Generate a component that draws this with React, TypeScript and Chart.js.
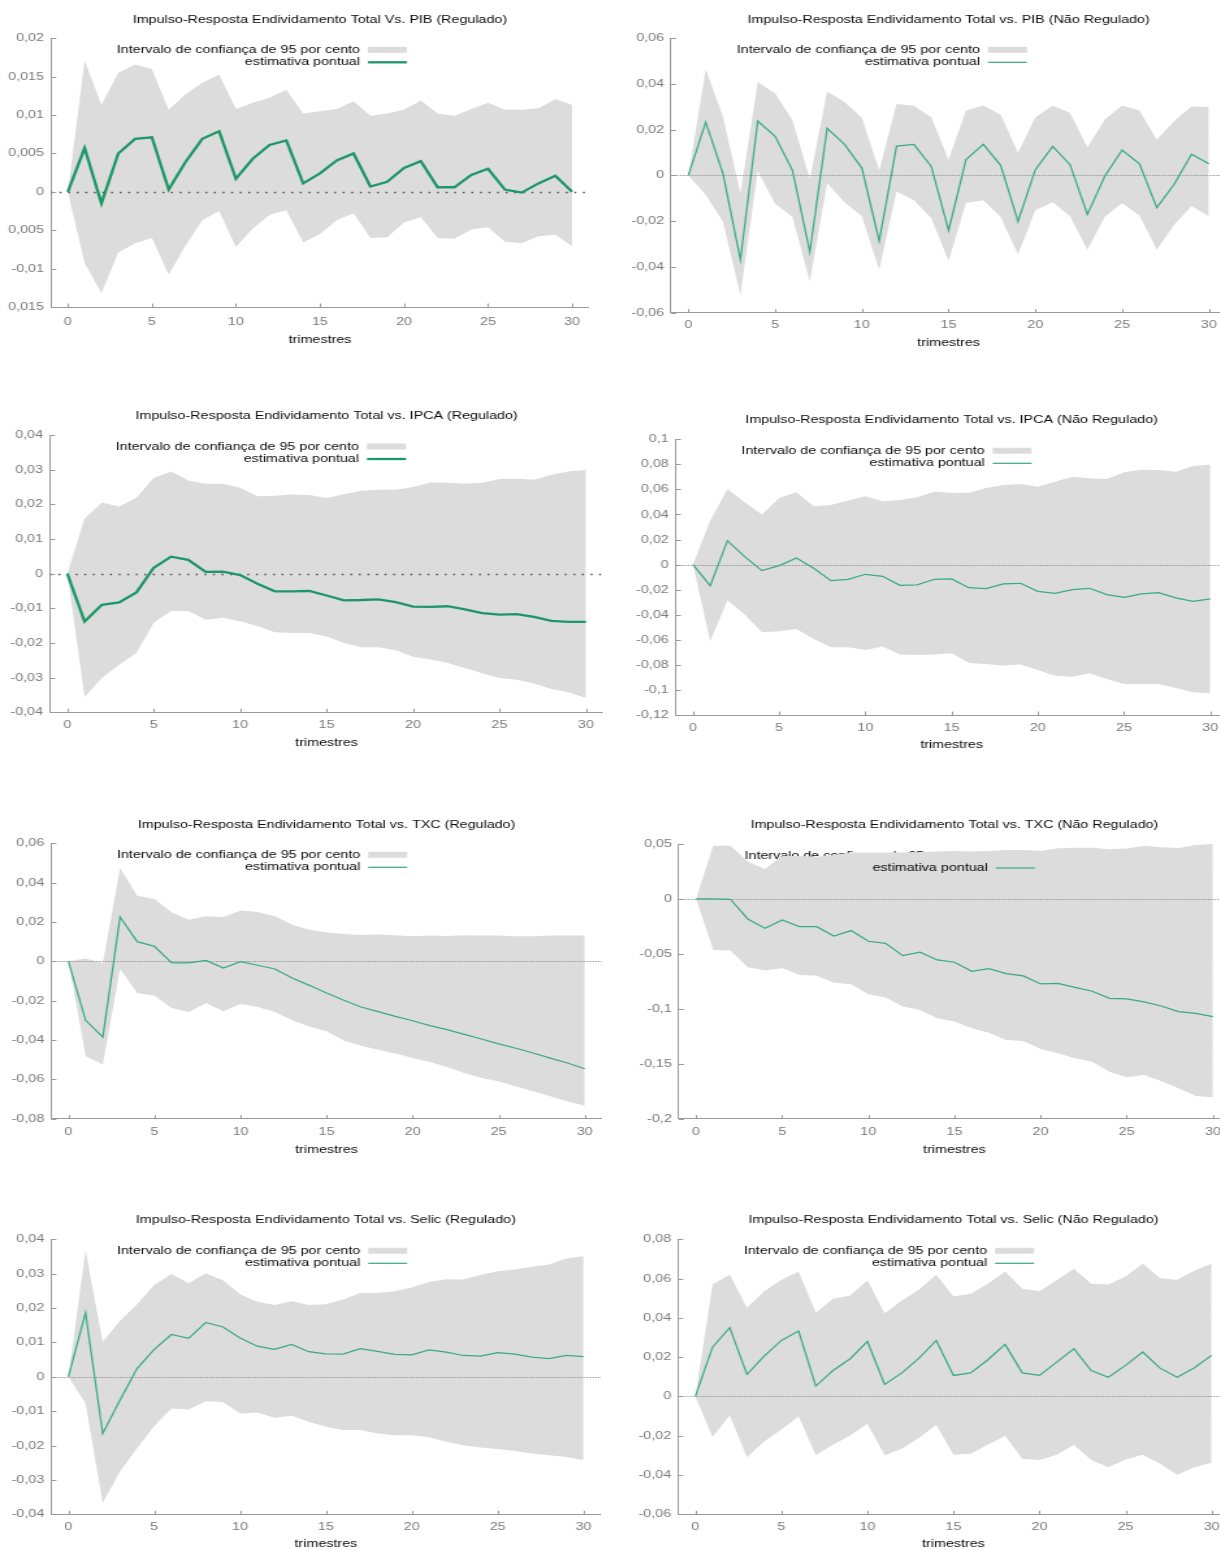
import React, { useEffect, useRef } from "react";
import { Chart, registerables } from "chart.js";

Chart.register(...registerables);

// ---------------- data ----------------
const HORIZON = [0, 1, 2, 3, 4, 5, 6, 7, 8, 9, 10, 11, 12, 13, 14, 15, 16, 17, 18, 19, 20, 21, 22, 23, 24, 25, 26, 27, 28, 29, 30];
const X_TICKS = [0, 5, 10, 15, 20, 25, 30];
const X_TICK_LABELS = ["0", "5", "10", "15", "20", "25", "30"];
const X_TITLE = "trimestres";
const LEGEND_BAND = "Intervalo de confiança de 95 por cento";
const LEGEND_LINE = "estimativa pontual";

// PIB (Regulado)
const PIB_REG_TITLE = "Impulso-Resposta Endividamento Total Vs. PIB (Regulado)";
const PIB_REG_POINT = [0, 0.0057, -0.0015, 0.005, 0.0069, 0.0071, 0.0003, 0.0039, 0.0069, 0.0079, 0.0017, 0.0043, 0.0061, 0.0067, 0.0011, 0.0024, 0.0041, 0.005, 0.0007, 0.0013, 0.0031, 0.004, 0.0006, 0.0006, 0.0022, 0.003, 0.0003, -0.0001, 0.0011, 0.0021, 0.0];
const PIB_REG_UPPER = [0, 0.0171, 0.0113, 0.0155, 0.0166, 0.016, 0.0107, 0.0127, 0.0142, 0.0153, 0.0108, 0.0116, 0.0123, 0.0133, 0.0102, 0.0105, 0.0108, 0.0118, 0.0099, 0.0102, 0.0107, 0.0119, 0.0102, 0.0099, 0.0108, 0.0116, 0.0107, 0.0107, 0.0109, 0.0121, 0.0113];
const PIB_REG_LOWER = [0, -0.0093, -0.0132, -0.0079, -0.0067, -0.006, -0.0108, -0.007, -0.0037, -0.0025, -0.0072, -0.0048, -0.003, -0.0024, -0.0066, -0.0055, -0.0037, -0.0028, -0.006, -0.0059, -0.004, -0.0033, -0.006, -0.0061, -0.0049, -0.0046, -0.0065, -0.0067, -0.0058, -0.0056, -0.0071];
const PIB_REG_YTICKS = [-0.015, -0.01, -0.005, 0, 0.005, 0.01, 0.015, 0.02];
const PIB_REG_YLABELS = ["0,015", "-0,01", "0,005", "0", "0,005", "0,01", "0,015", "0,02"];

// PIB (Não Regulado)
const PIB_NREG_TITLE = "Impulso-Resposta Endividamento Total vs. PIB (Não Regulado)";
const PIB_NREG_POINT = [0, 0.0233, 0.0007, -0.0369, 0.0238, 0.0171, 0.0022, -0.0335, 0.0206, 0.0136, 0.0032, -0.0287, 0.0128, 0.0136, 0.0039, -0.0241, 0.0069, 0.0136, 0.0044, -0.0201, 0.0025, 0.0127, 0.0047, -0.0171, -0.0004, 0.0111, 0.0051, -0.0141, -0.0039, 0.0093, 0.0051];
const PIB_NREG_UPPER = [0, 0.0467, 0.0255, -0.0077, 0.0408, 0.036, 0.0241, -0.0015, 0.0367, 0.0321, 0.0252, 0.0022, 0.0313, 0.0305, 0.0255, 0.0069, 0.0284, 0.0306, 0.0265, 0.0099, 0.0255, 0.0305, 0.0274, 0.0122, 0.0245, 0.0306, 0.0284, 0.0156, 0.0238, 0.0302, 0.0299];
const PIB_NREG_LOWER = [0, -0.0085, -0.0204, -0.0525, 0.0019, -0.0124, -0.0182, -0.0464, -0.0034, -0.0117, -0.0179, -0.0413, -0.007, -0.0109, -0.0187, -0.0375, -0.0121, -0.0109, -0.0182, -0.0346, -0.0153, -0.0117, -0.0179, -0.0325, -0.0182, -0.0121, -0.0175, -0.0325, -0.0216, -0.0134, -0.0179];
const PIB_NREG_YTICKS = [-0.06, -0.04, -0.02, 0, 0.02, 0.04, 0.06];
const PIB_NREG_YLABELS = ["-0,06", "-0,04", "-0,02", "0", "0,02", "0,04", "0,06"];

// IPCA (Regulado)
const IPCA_REG_TITLE = "Impulso-Resposta Endividamento Total vs. IPCA (Regulado)";
const IPCA_REG_POINT = [0, -0.0138, -0.009, -0.0083, -0.0054, 0.0017, 0.0049, 0.004, 0.0005, 0.0006, -0.0004, -0.0029, -0.0051, -0.0051, -0.005, -0.0063, -0.0077, -0.0076, -0.0074, -0.0082, -0.0095, -0.0096, -0.0094, -0.0103, -0.0114, -0.0118, -0.0117, -0.0125, -0.0136, -0.0139, -0.0139];
const IPCA_REG_UPPER = [0, 0.0159, 0.0205, 0.0194, 0.0219, 0.0276, 0.0295, 0.0269, 0.0259, 0.0259, 0.0248, 0.0223, 0.0225, 0.0228, 0.0227, 0.0218, 0.0229, 0.0239, 0.0242, 0.0242, 0.025, 0.0263, 0.0262, 0.0259, 0.0262, 0.0273, 0.0274, 0.0271, 0.0285, 0.0295, 0.03];
const IPCA_REG_LOWER = [0, -0.0356, -0.0301, -0.0263, -0.0229, -0.0142, -0.0108, -0.0108, -0.0133, -0.0127, -0.0137, -0.0151, -0.0169, -0.0171, -0.0171, -0.0181, -0.02, -0.0212, -0.0212, -0.0221, -0.024, -0.0248, -0.0258, -0.0272, -0.0287, -0.0301, -0.0306, -0.0317, -0.0333, -0.0342, -0.0359];
const IPCA_REG_YTICKS = [-0.04, -0.03, -0.02, -0.01, 0, 0.01, 0.02, 0.03, 0.04];
const IPCA_REG_YLABELS = ["-0,04", "-0,03", "-0,02", "-0,01", "0", "0,01", "0,02", "0,03", "0,04"];

// IPCA (Não Regulado)
const IPCA_NREG_TITLE = "Impulso-Resposta Endividamento Total vs. IPCA (Não Regulado)";
const IPCA_NREG_POINT = [0, -0.0168, 0.0191, 0.0064, -0.0048, -0.0008, 0.0053, -0.0029, -0.0128, -0.0117, -0.0077, -0.0093, -0.0165, -0.0162, -0.0117, -0.0114, -0.0184, -0.0191, -0.0154, -0.0149, -0.0213, -0.0229, -0.0199, -0.0189, -0.0239, -0.0261, -0.0234, -0.0223, -0.0266, -0.0293, -0.0274];
const IPCA_NREG_UPPER = [0, 0.0351, 0.0604, 0.0497, 0.0399, 0.0532, 0.0577, 0.0465, 0.0476, 0.0511, 0.0545, 0.0505, 0.0516, 0.0537, 0.0582, 0.0572, 0.0574, 0.0612, 0.0636, 0.0644, 0.0622, 0.0662, 0.0702, 0.0689, 0.0684, 0.0737, 0.0758, 0.0755, 0.0742, 0.0787, 0.0798];
const IPCA_NREG_LOWER = [0, -0.0612, -0.0287, -0.0399, -0.054, -0.0532, -0.0513, -0.0593, -0.066, -0.066, -0.0681, -0.0654, -0.0718, -0.0721, -0.0718, -0.0707, -0.0785, -0.0793, -0.0806, -0.0798, -0.084, -0.0886, -0.0894, -0.0867, -0.0912, -0.0952, -0.0952, -0.0952, -0.0984, -0.1019, -0.1027];
const IPCA_NREG_YTICKS = [-0.12, -0.1, -0.08, -0.06, -0.04, -0.02, 0, 0.02, 0.04, 0.06, 0.08, 0.1];
const IPCA_NREG_YLABELS = ["-0,12", "-0,1", "-0,08", "-0,06", "-0,04", "-0,02", "0", "0,02", "0,04", "0,06", "0,08", "0,1"];

// TXC (Regulado)
const TXC_REG_TITLE = "Impulso-Resposta Endividamento Total vs. TXC (Regulado)";
const TXC_REG_POINT = [0, -0.03, -0.0385, 0.0225, 0.01, 0.0076, -0.0008, -0.0008, 0.0005, -0.0034, -0.0002, -0.002, -0.0039, -0.0085, -0.0122, -0.0161, -0.0198, -0.0232, -0.0256, -0.028, -0.0302, -0.0327, -0.0347, -0.0371, -0.0395, -0.042, -0.0442, -0.0466, -0.0492, -0.0517, -0.0546];
const TXC_REG_UPPER = [0, 0.0014, -0.0008, 0.0475, 0.0334, 0.0317, 0.0249, 0.0212, 0.0229, 0.0225, 0.0259, 0.0251, 0.0229, 0.0186, 0.0161, 0.0147, 0.0139, 0.0134, 0.0136, 0.0132, 0.0127, 0.0131, 0.0129, 0.0132, 0.0131, 0.0131, 0.0127, 0.0127, 0.0131, 0.0131, 0.0131];
const TXC_REG_LOWER = [0, -0.0483, -0.0525, -0.0039, -0.0161, -0.0175, -0.0237, -0.0258, -0.0212, -0.0254, -0.0217, -0.0232, -0.0258, -0.03, -0.0331, -0.0356, -0.0402, -0.0429, -0.0449, -0.0469, -0.0492, -0.0512, -0.0537, -0.0568, -0.0593, -0.061, -0.0636, -0.0661, -0.0686, -0.0712, -0.0734];
const TXC_REG_YTICKS = [-0.08, -0.06, -0.04, -0.02, 0, 0.02, 0.04, 0.06];
const TXC_REG_YLABELS = ["-0,08", "-0,06", "-0,04", "-0,02", "0", "0,02", "0,04", "0,06"];

// TXC (Não Regulado)
const TXC_NREG_TITLE = "Impulso-Resposta Endividamento Total vs. TXC (Não Regulado)";
const TXC_NREG_POINT = [0, 0, -0.0003, -0.0182, -0.0267, -0.0191, -0.0252, -0.0252, -0.0337, -0.0288, -0.0385, -0.0404, -0.0516, -0.0485, -0.0555, -0.0576, -0.0658, -0.0634, -0.068, -0.0701, -0.0774, -0.0768, -0.0804, -0.084, -0.0904, -0.091, -0.0937, -0.0974, -0.1026, -0.1041, -0.1071];
const TXC_NREG_UPPER = [0, 0.0485, 0.0485, 0.034, 0.0273, 0.0391, 0.0391, 0.0385, 0.04, 0.0422, 0.0422, 0.0422, 0.0422, 0.0425, 0.0431, 0.0437, 0.0431, 0.0437, 0.0446, 0.0446, 0.0437, 0.0461, 0.0467, 0.0467, 0.0452, 0.0458, 0.0485, 0.047, 0.0464, 0.0491, 0.0501];
const TXC_NREG_LOWER = [0, -0.0464, -0.047, -0.0622, -0.0652, -0.0628, -0.0692, -0.0698, -0.0762, -0.0777, -0.0868, -0.0898, -0.098, -0.101, -0.1086, -0.1116, -0.1177, -0.1217, -0.1283, -0.1292, -0.1365, -0.1405, -0.145, -0.1481, -0.1572, -0.1623, -0.1602, -0.1657, -0.1723, -0.1793, -0.1805];
const TXC_NREG_YTICKS = [-0.2, -0.15, -0.1, -0.05, 0, 0.05];
const TXC_NREG_YLABELS = ["-0,2", "-0,15", "-0,1", "-0,05", "0", "0,05"];

// Selic (Regulado)
const SELIC_REG_TITLE = "Impulso-Resposta Endividamento Total vs. Selic (Regulado)";
const SELIC_REG_POINT = [0, 0.0186, -0.0165, -0.0068, 0.0024, 0.008, 0.0123, 0.0112, 0.0158, 0.0145, 0.0113, 0.0089, 0.008, 0.0094, 0.0073, 0.0067, 0.0066, 0.0082, 0.0074, 0.0065, 0.0064, 0.0078, 0.0072, 0.0062, 0.006, 0.007, 0.0066, 0.0057, 0.0053, 0.0062, 0.0059];
const SELIC_REG_UPPER = [0, 0.0368, 0.0102, 0.0162, 0.0211, 0.0267, 0.0299, 0.0272, 0.0301, 0.0281, 0.024, 0.0218, 0.0209, 0.022, 0.0209, 0.0211, 0.0225, 0.0244, 0.0244, 0.0249, 0.026, 0.0276, 0.0284, 0.0283, 0.0296, 0.0307, 0.0312, 0.032, 0.0327, 0.0344, 0.0351];
const SELIC_REG_LOWER = [0, -0.0078, -0.0367, -0.0276, -0.0208, -0.0143, -0.0092, -0.0095, -0.0071, -0.0073, -0.0107, -0.0104, -0.0119, -0.0113, -0.0131, -0.0145, -0.0155, -0.0155, -0.0165, -0.017, -0.017, -0.0176, -0.0189, -0.0199, -0.0206, -0.021, -0.0216, -0.0223, -0.0228, -0.0233, -0.0242];
const SELIC_REG_YTICKS = [-0.04, -0.03, -0.02, -0.01, 0, 0.01, 0.02, 0.03, 0.04];
const SELIC_REG_YLABELS = ["-0,04", "-0,03", "-0,02", "-0,01", "0", "0,01", "0,02", "0,03", "0,04"];

// Selic (Não Regulado)
const SELIC_NREG_TITLE = "Impulso-Resposta Endividamento Total vs. Selic (Não Regulado)";
const SELIC_NREG_POINT = [0, 0.0251, 0.035, 0.0112, 0.0205, 0.0285, 0.0333, 0.0053, 0.0132, 0.0192, 0.028, 0.0061, 0.012, 0.0195, 0.0285, 0.0107, 0.012, 0.0187, 0.0265, 0.012, 0.0107, 0.0175, 0.0243, 0.0132, 0.0098, 0.0158, 0.0226, 0.0144, 0.0098, 0.0146, 0.0209];
const SELIC_NREG_UPPER = [0, 0.057, 0.0621, 0.0452, 0.0535, 0.0594, 0.0636, 0.0426, 0.0497, 0.0514, 0.0591, 0.0424, 0.0489, 0.0543, 0.0619, 0.0509, 0.0523, 0.0574, 0.0636, 0.0548, 0.0535, 0.0591, 0.065, 0.0574, 0.057, 0.0611, 0.0675, 0.0602, 0.0594, 0.0641, 0.0675];
const SELIC_NREG_LOWER = [0, -0.0207, -0.0097, -0.0309, -0.0229, -0.0168, -0.0102, -0.03, -0.0246, -0.0199, -0.0139, -0.03, -0.0266, -0.021, -0.0144, -0.0297, -0.0292, -0.0246, -0.0202, -0.0317, -0.0323, -0.0297, -0.0246, -0.0323, -0.036, -0.0321, -0.0297, -0.0343, -0.0399, -0.036, -0.0338];
const SELIC_NREG_YTICKS = [-0.06, -0.04, -0.02, 0, 0.02, 0.04, 0.06, 0.08];
const SELIC_NREG_YLABELS = ["-0,06", "-0,04", "-0,02", "0", "0,02", "0,04", "0,06", "0,08"];

// ---------------- layout & style ----------------
const STRETCH = 1.3; // horizontal stretch of the whole picture
const FONT_FAMILY = '"Liberation Sans", Arial, Helvetica, sans-serif';
const FONT_SIZE = 11;
const HALF_LINE = (FONT_SIZE * 1.2) / 2;

const STYLE = {
  band: "#dcdcdc",
  axis: "#9a9a9a",
  tick: "#7a7a7a",
  text: "#0a0a0a",
  heavyLine: "#1c976b",
  lightLine: "#3aab83",
  heavyZero: "#474747",
  lightZero: "#939393",
};

// page-pixel geometry: canvas left, plot left/right/top/bottom, title/xlabel/axis-title centres
const GEOMETRY = [
  { cx: 0, L: 51, R: 588.6, T: 38.3, B: 307, titleY: 19.3, xlabY: 321.7, trimY: 340 },
  { cx: 610, L: 671, R: 1225.6, T: 38.3, B: 312.5, titleY: 20, xlabY: 325, trimY: 343.3 },
  { cx: 0, L: 50, R: 603, T: 435, B: 712.3, titleY: 415.7, xlabY: 725, trimY: 743.3 },
  { cx: 610, L: 675.7, R: 1227.4, T: 439.3, B: 715, titleY: 420, xlabY: 727.7, trimY: 745.7 },
  { cx: 0, L: 51.2, R: 602, T: 843.3, B: 1118.7, titleY: 825, xlabY: 1131.7, trimY: 1150 },
  { cx: 610, L: 678.8, R: 1229.8, T: 844, B: 1118.7, titleY: 825, xlabY: 1131.7, trimY: 1150 },
  { cx: 0, L: 51.2, R: 601, T: 1239.3, B: 1514.3, titleY: 1220, xlabY: 1527.3, trimY: 1544.3 },
  { cx: 610, L: 678.1, R: 1228.2, T: 1239.3, B: 1514.3, titleY: 1220, xlabY: 1527.3, trimY: 1544.3 },
];

const LEGEND_GEO = { textRight: 309, sampleL: 317, sampleR: 356, row1: 11.5, row2: 24, boxH: 6 };

const PANELS = [
  { title: PIB_REG_TITLE, point: PIB_REG_POINT, upper: PIB_REG_UPPER, lower: PIB_REG_LOWER, yTicks: PIB_REG_YTICKS, yLabels: PIB_REG_YLABELS, heavy: true },
  { title: PIB_NREG_TITLE, point: PIB_NREG_POINT, upper: PIB_NREG_UPPER, lower: PIB_NREG_LOWER, yTicks: PIB_NREG_YTICKS, yLabels: PIB_NREG_YLABELS, heavy: false },
  { title: IPCA_REG_TITLE, point: IPCA_REG_POINT, upper: IPCA_REG_UPPER, lower: IPCA_REG_LOWER, yTicks: IPCA_REG_YTICKS, yLabels: IPCA_REG_YLABELS, heavy: true },
  { title: IPCA_NREG_TITLE, point: IPCA_NREG_POINT, upper: IPCA_NREG_UPPER, lower: IPCA_NREG_LOWER, yTicks: IPCA_NREG_YTICKS, yLabels: IPCA_NREG_YLABELS, heavy: false },
  { title: TXC_REG_TITLE, point: TXC_REG_POINT, upper: TXC_REG_UPPER, lower: TXC_REG_LOWER, yTicks: TXC_REG_YTICKS, yLabels: TXC_REG_YLABELS, heavy: false },
  { title: TXC_NREG_TITLE, point: TXC_NREG_POINT, upper: TXC_NREG_UPPER, lower: TXC_NREG_LOWER, yTicks: TXC_NREG_YTICKS, yLabels: TXC_NREG_YLABELS, heavy: false },
  { title: SELIC_REG_TITLE, point: SELIC_REG_POINT, upper: SELIC_REG_UPPER, lower: SELIC_REG_LOWER, yTicks: SELIC_REG_YTICKS, yLabels: SELIC_REG_YLABELS, heavy: false },
  { title: SELIC_NREG_TITLE, point: SELIC_NREG_POINT, upper: SELIC_NREG_UPPER, lower: SELIC_NREG_LOWER, yTicks: SELIC_NREG_YTICKS, yLabels: SELIC_NREG_YLABELS, heavy: false },
];

function toXY(values: number[]) {
  return HORIZON.map((x, i) => ({ x, y: values[i] }));
}

function IrfPanel({ panel, geo }: { panel: any; geo: any }) {
  const ref = useRef<HTMLCanvasElement>(null);
  const top = Math.round(geo.titleY - HALF_LINE);
  const height = Math.round(geo.trimY + HALF_LINE - top);
  const width = Math.round((geo.R - geo.cx) / STRETCH);

  useEffect(() => {
    const canvas = ref.current;
    if (!canvas) return;
    const s = STRETCH;
    const lineColor = panel.heavy ? STYLE.heavyLine : STYLE.lightLine;
    const lineWidth = panel.heavy ? 2.3 : 1.25;
    const font = { family: FONT_FAMILY, size: FONT_SIZE, weight: "normal" as const };
    const fontStr = `${FONT_SIZE}px ${FONT_FAMILY}`;

    const titlePadBottom = geo.T - top - 2 * HALF_LINE;
    const xAxisHeight = top + height - geo.B;
    const xTickPad = geo.xlabY - geo.B - HALF_LINE;
    const yAxisWidth = (geo.L - geo.cx) / s;

    const decor = {
      id: "irfDecor",
      beforeDatasetsDraw(chart: any) {
        const { ctx, chartArea: ca } = chart;
        ctx.save();
        const y1 = ca.top + LEGEND_GEO.row1;
        ctx.font = fontStr;
        ctx.fillStyle = STYLE.text;
        ctx.textAlign = "right";
        ctx.textBaseline = "middle";
        ctx.fillText(LEGEND_BAND, ca.left + LEGEND_GEO.textRight / s, y1);
        ctx.fillStyle = STYLE.band;
        ctx.fillRect(
          ca.left + LEGEND_GEO.sampleL / s,
          y1 - LEGEND_GEO.boxH / 2,
          (LEGEND_GEO.sampleR - LEGEND_GEO.sampleL) / s,
          LEGEND_GEO.boxH
        );
        ctx.restore();
      },
      beforeDatasetDraw(chart: any, args: any) {
        if (args.index !== 0) return;
        const { ctx, chartArea: ca, scales } = chart;
        ctx.save();
        // zero line
        const y0 = Math.round(scales.y.getPixelForValue(0)) + 0.5;
        ctx.beginPath();
        ctx.strokeStyle = panel.heavy ? STYLE.heavyZero : STYLE.lightZero;
        ctx.lineWidth = panel.heavy ? 1.6 : 1;
        ctx.setLineDash(panel.heavy ? [1.4, 5.2] : [1.2, 1.1]);
        ctx.moveTo(ca.left, y0);
        ctx.lineTo(ca.right, y0);
        ctx.stroke();
        ctx.setLineDash([]);
        // legend row 2
        const y2 = ca.top + LEGEND_GEO.row2;
        ctx.font = fontStr;
        ctx.fillStyle = STYLE.text;
        ctx.textAlign = "right";
        ctx.textBaseline = "middle";
        ctx.fillText(LEGEND_LINE, ca.left + LEGEND_GEO.textRight / s, y2);
        ctx.beginPath();
        ctx.strokeStyle = lineColor;
        ctx.lineWidth = lineWidth;
        ctx.moveTo(ca.left + LEGEND_GEO.sampleL / s, y2);
        ctx.lineTo(ca.left + LEGEND_GEO.sampleR / s, y2);
        ctx.stroke();
        ctx.restore();
      },
      afterDatasetsDraw(chart: any) {
        const { ctx, chartArea: ca, scales } = chart;
        ctx.save();
        ctx.strokeStyle = STYLE.axis;
        ctx.lineWidth = 1;
        ctx.beginPath();
        X_TICKS.forEach((v) => {
          const px = Math.round(scales.x.getPixelForValue(v)) + 0.5;
          ctx.moveTo(px, ca.bottom);
          ctx.lineTo(px, ca.bottom - 3.5);
        });
        panel.yTicks.forEach((v: number) => {
          const py = Math.round(scales.y.getPixelForValue(v)) + 0.5;
          ctx.moveTo(ca.left, py);
          ctx.lineTo(ca.left + 4, py);
        });
        ctx.stroke();
        ctx.restore();
      },
    };

    const chart = new Chart(canvas, {
      type: "line",
      data: {
        datasets: [
          {
            label: LEGEND_LINE,
            data: toXY(panel.point),
            borderColor: lineColor,
            borderWidth: lineWidth,
            pointRadius: 0,
            tension: 0,
            fill: false,
            order: 0,
          },
          {
            label: "upper",
            data: toXY(panel.upper),
            borderColor: "rgba(0,0,0,0)",
            borderWidth: 0,
            backgroundColor: STYLE.band,
            pointRadius: 0,
            tension: 0,
            fill: "+1",
            order: 1,
          },
          {
            label: "lower",
            data: toXY(panel.lower),
            borderColor: "rgba(0,0,0,0)",
            borderWidth: 0,
            pointRadius: 0,
            tension: 0,
            fill: false,
            order: 2,
          },
        ],
      },
      options: {
        responsive: false,
        animation: false,
        devicePixelRatio: 1,
        layout: { padding: 0 },
        events: [],
        plugins: {
          legend: { display: false },
          tooltip: { enabled: false },
          title: {
            display: true,
            text: panel.title,
            fullSize: false,
            color: STYLE.text,
            font,
            padding: { top: 0, bottom: titlePadBottom },
          },
        },
        scales: {
          x: {
            type: "linear",
            min: -1,
            max: 31,
            grid: { display: false, drawTicks: false },
            border: { display: true, color: STYLE.axis, width: 1 },
            ticks: {
              autoSkip: false,
              maxRotation: 0,
              padding: xTickPad,
              color: STYLE.tick,
              font,
              callback: (v: any) => {
                const i = X_TICKS.indexOf(Number(v));
                return i >= 0 ? X_TICK_LABELS[i] : "";
              },
            },
            afterBuildTicks: (sc: any) => {
              sc.ticks = X_TICKS.map((v) => ({ value: v }));
            },
            afterFit: (sc: any) => {
              sc.height = xAxisHeight;
              sc.paddingLeft = 0;
              sc.paddingRight = 0;
            },
            title: {
              display: true,
              text: X_TITLE,
              color: STYLE.text,
              font,
              padding: { top: 0, bottom: 0 },
            },
          },
          y: {
            type: "linear",
            min: panel.yTicks[0],
            max: panel.yTicks[panel.yTicks.length - 1],
            grid: { display: false, drawTicks: false },
            border: { display: true, color: STYLE.axis, width: 1 },
            ticks: {
              autoSkip: false,
              padding: 7 / s,
              color: STYLE.tick,
              font,
              callback: (v: any) => {
                const i = panel.yTicks.findIndex((t: number) => Math.abs(t - Number(v)) < 1e-9);
                return i >= 0 ? panel.yLabels[i] : "";
              },
            },
            afterBuildTicks: (sc: any) => {
              sc.ticks = panel.yTicks.map((v: number) => ({ value: v }));
            },
            afterFit: (sc: any) => {
              sc.width = yAxisWidth;
              sc.paddingTop = 0;
              sc.paddingBottom = 0;
            },
          },
        },
      },
      plugins: [decor],
    } as any);

    return () => chart.destroy();
  }, [panel, geo, top, height]);

  return (
    <canvas
      ref={ref}
      width={width}
      height={height}
      style={{
        position: "absolute",
        left: geo.cx,
        top,
        width,
        height,
        transform: `scaleX(${STRETCH})`,
        transformOrigin: "0 0",
      }}
    />
  );
}

export default function App() {
  return (
    <div
      style={{
        position: "absolute",
        left: 0,
        top: 0,
        width: 1220,
        height: 1550,
        overflow: "hidden",
        background: "#ffffff",
      }}
    >
      {PANELS.map((p, i) => (
        <IrfPanel key={i} panel={p} geo={GEOMETRY[i]} />
      ))}
    </div>
  );
}
